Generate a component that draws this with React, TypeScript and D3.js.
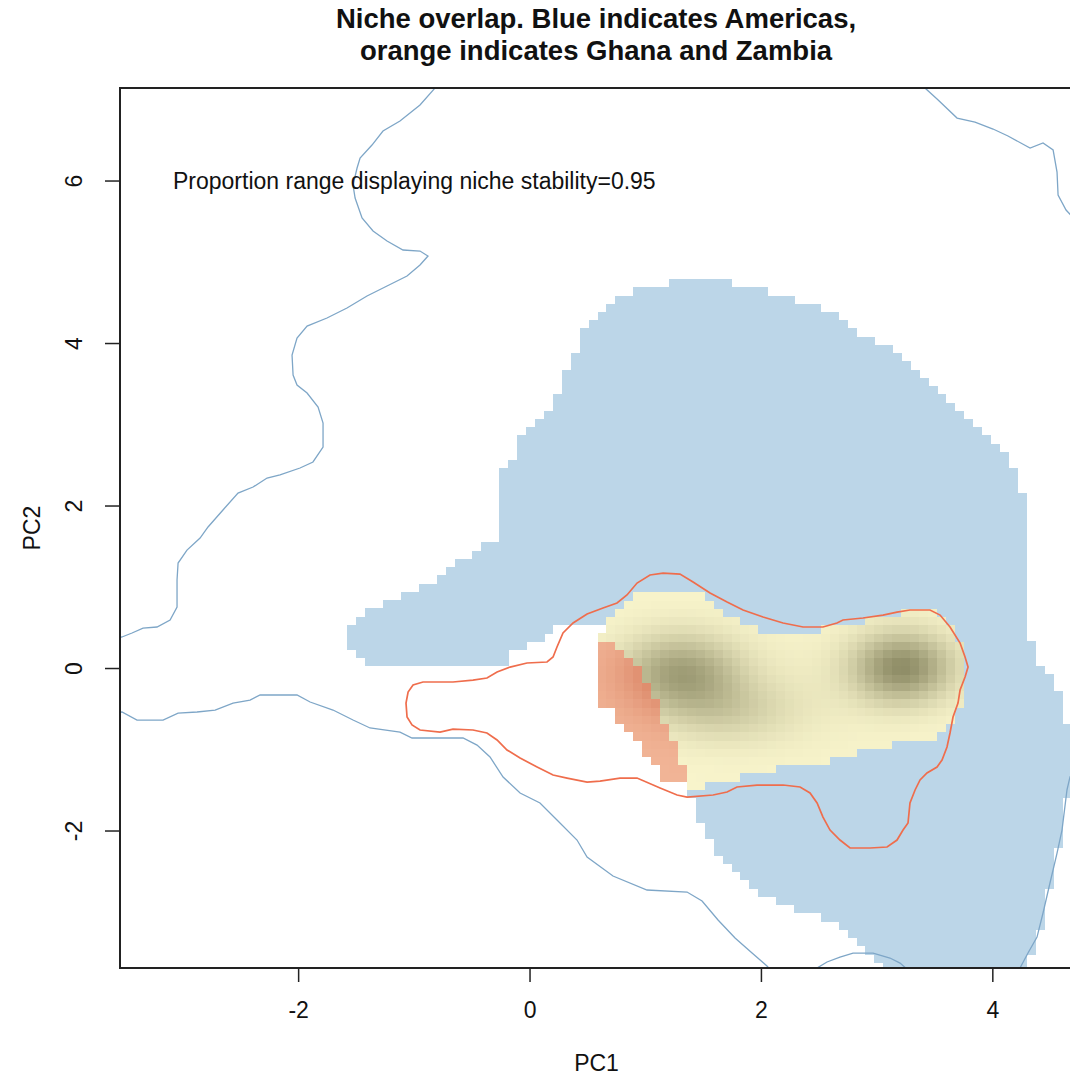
import React from 'react';
import * as d3 from 'd3';

type Pt = [number, number];

// Axis set-up (PC1 / PC2 units)
const xDomain: Pt = [-3.544, 4.693];
const yDomain: Pt = [-3.686, 7.145];
const xTicks = [-2, 0, 2, 4];
const yTicks = [-2, 0, 2, 4, 6];

// Raster grid of the niche model: origin cell centre and cell size (PC units)
const gridOrigin: Pt = [-3.238, -3.26];
const gridStep: Pt = [0.0772, 0.1013];
const gridRange: Pt = [-6, 112];

// Americas niche (blue, occupied area) outline
const americasNiche: Pt[] = [
  [1.175, 4.794], [1.737, 4.794], [1.737, 4.745], [2.074, 4.646], [2.316, 4.542], [2.489, 4.437],
  [2.662, 4.338], [2.74, 4.24], [2.826, 4.129], [2.982, 4.031], [3.137, 3.92], [3.224, 3.797], [3.31, 3.698],
  [3.397, 3.6], [3.483, 3.489], [3.57, 3.391], [3.656, 3.292], [3.742, 3.169], [3.82, 3.046],
  [3.898, 2.923], [3.976, 2.812], [4.062, 2.714], [4.166, 2.505], [4.235, 2.197], [4.322, 1.828],
  [4.322, 1.089], [4.252, 1.028], [4.252, 0.437], [4.322, 0.388], [4.408, 0.068], [4.494, -0.105],
  [4.581, -0.351], [4.641, -0.671], [4.754, -0.942], [4.754, -1.311], [4.641, -1.495], [4.598, -1.988],
  [4.555, -2.271], [4.494, -2.64], [4.434, -3.009], [4.382, -3.305], [4.322, -3.502], [4.296, -3.834],
  [3.086, -3.834], [2.999, -3.588], [2.878, -3.465], [2.826, -3.378], [2.74, -3.255], [2.653, -3.132],
  [2.481, -3.058], [2.334, -2.972], [2.187, -2.886], [2.1, -2.849], [2.014, -2.763], [1.927, -2.726],
  [1.841, -2.603], [1.755, -2.48], [1.668, -2.382], [1.582, -2.197], [1.495, -1.963], [1.409, -1.68],
  [1.34, -1.458], [1.037, -0.388], [0.691, 0.289], [0.666, 0.535], [0.259, 0.535], [0.156, 0.437],
  [0.0, 0.289], [-0.164, 0.203], [-0.164, 0.068], [-1.409, 0.068], [-1.495, 0.203], [-1.573, 0.314],
  [-1.573, 0.511], [-1.495, 0.622], [-1.409, 0.72], [-1.15, 0.843], [-0.977, 0.966], [-0.838, 1.065],
  [-0.752, 1.175], [-0.666, 1.298], [-0.493, 1.397], [-0.406, 1.495], [-0.242, 1.618], [-0.242, 2.382],
  [-0.156, 2.591], [-0.086, 2.812], [0.0, 2.935], [0.086, 3.034], [0.173, 3.243], [0.259, 3.452],
  [0.346, 3.797], [0.424, 4.031], [0.501, 4.24], [0.579, 4.338], [0.666, 4.437], [0.752, 4.542],
  [0.916, 4.646], [1.175, 4.745],
];

// Stability area (shared niche, yellow, shaded by density)
const stabilityArea: Pt[] = [
  [0.605, 0.351], [0.666, 0.535], [0.709, 0.695], [0.778, 0.782], [0.882, 0.88], [1.011, 0.978],
  [1.409, 0.978], [1.513, 0.892], [1.599, 0.806], [1.668, 0.72], [1.772, 0.622], [1.901, 0.535],
  [2.005, 0.449], [2.247, 0.425], [2.42, 0.449], [2.55, 0.498], [2.723, 0.56], [2.939, 0.597],
  [3.172, 0.671], [3.328, 0.732], [3.474, 0.72], [3.561, 0.634], [3.647, 0.474], [3.717, 0.289],
  [3.769, 0.08], [3.742, -0.265], [3.691, -0.535], [3.63, -0.72], [3.526, -0.831], [3.328, -0.892],
  [3.137, -0.929], [2.939, -1.003], [2.723, -1.077], [2.567, -1.151], [2.334, -1.212], [2.005, -1.249],
  [1.858, -1.323], [1.729, -1.385], [1.513, -1.446], [1.348, -1.446], [1.167, -1.348], [0.951, -0.942],
  [0.709, -0.535], [0.588, -0.388],
];

// Unfilling area (orange band)
const unfillingArea: Pt[] = [
  [0.588, 0.289], [0.709, 0.314], [0.821, 0.166], [0.925, 0.043], [1.011, -0.203], [1.098, -0.449],
  [1.184, -0.695], [1.271, -1.003], [1.348, -1.36], [1.167, -1.36], [1.08, -1.212], [0.994, -1.065],
  [0.908, -0.88], [0.821, -0.732], [0.709, -0.535], [0.588, -0.388],
];

// Density peaks of occurrences in Ghana and Zambia (read from the shading)
const densityPeaks = [
  { x: 1.3, y: -0.05, sx: 0.36, sy: 0.33, w: 0.78 },
  { x: 1.72, y: -0.52, sx: 0.4, sy: 0.28, w: 0.3 },
  { x: 3.22, y: 0.02, sx: 0.3, sy: 0.3, w: 0.95 },
  { x: 2.4, y: -0.3, sx: 0.5, sy: 0.45, w: 0.06 },
];

// Americas environment contour (blue line pieces)
const americasEnvLines: Pt[][] = [
  [
    [-0.804, 7.218], [-0.821, 7.145], [-0.951, 6.936], [-1.124, 6.739], [-1.271, 6.615], [-1.366, 6.443],
    [-1.469, 6.283], [-1.495, 6.16], [-1.53, 5.951], [-1.512, 5.791], [-1.452, 5.545], [-1.357, 5.385],
    [-1.236, 5.262], [-1.098, 5.151], [-0.951, 5.138], [-0.882, 5.077], [-0.951, 4.966], [-1.063, 4.831],
    [-1.236, 4.708], [-1.409, 4.585], [-1.582, 4.437], [-1.755, 4.314], [-1.927, 4.215], [-2.014, 4.068],
    [-2.057, 3.858], [-2.048, 3.612], [-2.014, 3.489], [-1.927, 3.391], [-1.832, 3.218], [-1.789, 3.022],
    [-1.789, 2.726], [-1.876, 2.542], [-1.988, 2.468], [-2.161, 2.382], [-2.273, 2.345], [-2.394, 2.234],
    [-2.524, 2.16], [-2.654, 1.951], [-2.783, 1.742], [-2.852, 1.606], [-2.965, 1.458], [-3.042, 1.298],
    [-3.051, 1.089], [-3.051, 0.757], [-3.111, 0.597], [-3.224, 0.511], [-3.345, 0.498], [-3.44, 0.437],
    [-3.527, 0.388], [-3.596, 0.363],
  ],
  [
    [-3.596, -0.548], [-3.527, -0.535], [-3.397, -0.634], [-3.172, -0.634], [-3.042, -0.548], [-2.878, -0.535],
    [-2.722, -0.511], [-2.567, -0.425], [-2.42, -0.388], [-2.333, -0.326], [-2.014, -0.326], [-1.901, -0.412],
    [-1.703, -0.511], [-1.53, -0.634], [-1.383, -0.732], [-1.124, -0.782], [-1.02, -0.855], [-0.579, -0.855],
    [-0.458, -0.942], [-0.346, -1.089], [-0.233, -1.335], [-0.086, -1.532], [0.086, -1.655], [0.233, -1.865],
    [0.406, -2.111], [0.493, -2.32], [0.717, -2.554], [1.011, -2.726], [1.357, -2.751], [1.487, -2.862],
    [1.625, -3.095], [1.772, -3.317], [1.919, -3.502], [2.048, -3.662], [2.118, -3.772],
  ],
  [
    [2.437, -3.785], [2.481, -3.686], [2.567, -3.612], [2.679, -3.551], [2.792, -3.502], [2.965, -3.502],
    [3.111, -3.563], [3.198, -3.625], [3.267, -3.711],
  ],
  [
    [4.754, -1.126], [4.667, -1.335], [4.641, -1.495], [4.598, -1.988], [4.555, -2.271], [4.494, -2.64],
    [4.434, -3.009], [4.382, -3.305], [4.304, -3.502], [4.235, -3.686], [4.218, -3.785],
  ],
  [
    [3.388, 7.218], [3.414, 7.145], [3.518, 7.009], [3.691, 6.775], [3.846, 6.726], [4.002, 6.64],
    [4.131, 6.554], [4.322, 6.406], [4.434, 6.468], [4.521, 6.382], [4.555, 6.111], [4.564, 5.828],
    [4.633, 5.643], [4.754, 5.458],
  ],
];

// Ghana and Zambia environment contour (orange line)
const ghanaZambiaEnvLine: Pt[] = [
  [-1.072, -0.425], [-1.054, -0.289], [-1.011, -0.203], [-0.925, -0.166], [-0.666, -0.166], [-0.493, -0.142],
  [-0.372, -0.117], [-0.285, -0.043], [-0.173, 0.018], [-0.026, 0.068], [0.147, 0.08], [0.199, 0.142],
  [0.233, 0.265], [0.285, 0.437], [0.372, 0.56], [0.493, 0.671], [0.631, 0.745], [0.752, 0.806],
  [0.838, 0.905], [0.925, 1.052], [1.037, 1.151], [1.15, 1.175], [1.296, 1.163], [1.409, 1.065],
  [1.556, 0.929], [1.703, 0.818], [1.841, 0.72], [2.014, 0.634], [2.187, 0.56], [2.36, 0.511],
  [2.532, 0.511], [2.653, 0.56], [2.705, 0.597], [2.878, 0.622], [3.051, 0.658], [3.172, 0.695],
  [3.284, 0.72], [3.457, 0.72], [3.544, 0.658], [3.63, 0.511], [3.717, 0.314], [3.76, 0.142],
  [3.786, 0.018], [3.76, -0.105], [3.717, -0.265], [3.699, -0.425], [3.656, -0.597], [3.63, -0.794],
  [3.604, -0.966], [3.561, -1.126], [3.518, -1.212], [3.431, -1.286], [3.371, -1.372], [3.328, -1.495],
  [3.284, -1.655], [3.267, -1.902], [3.224, -1.988], [3.172, -2.111], [3.086, -2.197], [2.939, -2.209],
  [2.766, -2.209], [2.679, -2.111], [2.593, -1.988], [2.532, -1.828], [2.481, -1.655], [2.42, -1.532],
  [2.334, -1.458], [2.187, -1.434], [1.962, -1.434], [1.789, -1.458], [1.703, -1.52], [1.582, -1.557],
  [1.357, -1.582], [1.271, -1.557], [1.124, -1.471], [0.925, -1.348], [0.778, -1.348], [0.605, -1.385],
  [0.493, -1.397], [0.32, -1.348], [0.199, -1.311], [0.061, -1.212], [-0.086, -1.102], [-0.199, -1.003],
  [-0.285, -0.88], [-0.372, -0.794], [-0.493, -0.757], [-0.666, -0.745], [-0.778, -0.782], [-0.951, -0.757],
  [-1.02, -0.695], [-1.063, -0.597],
];

const titleLines = ['Niche overlap. Blue indicates Americas,', 'orange indicates Ghana and Zambia'];
const annotation = 'Proportion range displaying niche stability=0.95';
const annotationAt: Pt = [-1, 6];

const FONT = "'Liberation Sans', Arial, Helvetica, sans-serif";
const BLUE_FILL = '#bcd6e8';
const BLUE_LINE = '#7ea6c7';
const ORANGE_LINE = '#ef6d4c';
const yellowLight = [248, 244, 203];
const yellowDark = [139, 137, 99];
const orangeLight = [241, 180, 150];
const orangeDark = [214, 124, 92];

function density(px: number, py: number) {
  let s = 0;
  for (const k of densityPeaks) {
    const a = (px - k.x) / k.sx;
    const b = (py - k.y) / k.sy;
    s += k.w * Math.exp(-0.5 * (a * a + b * b));
  }
  return Math.min(1, s);
}

function mix(c1: number[], c2: number[], t: number) {
  const r = Math.round(c1[0] + (c2[0] - c1[0]) * t);
  const g = Math.round(c1[1] + (c2[1] - c1[1]) * t);
  const b = Math.round(c1[2] + (c2[2] - c1[2]) * t);
  return `rgb(${r},${g},${b})`;
}

export default function App() {
  const W = 1070, H = 1078;
  const left = 120, right = 1073, top = 88, bottom = 968;
  const x = d3.scaleLinear().domain(xDomain).range([left, right]);
  const y = d3.scaleLinear().domain(yDomain).range([bottom, top]);

  const [dx, dy] = gridStep;
  const cells: JSX.Element[] = [];
  for (let i = gridRange[0]; i < gridRange[1]; i++) {
    for (let j = gridRange[0]; j < gridRange[1]; j++) {
      const cx = gridOrigin[0] + i * dx;
      const cy = gridOrigin[1] + j * dy;
      const pt: Pt = [cx, cy];
      let fill: string | null = null;
      if (d3.polygonContains(unfillingArea, pt)) {
        fill = mix(orangeLight, orangeDark, Math.min(1, density(cx, cy) * 1.3));
      } else if (d3.polygonContains(stabilityArea, pt)) {
        fill = mix(yellowLight, yellowDark, density(cx, cy));
      } else if (d3.polygonContains(americasNiche, pt)) {
        fill = BLUE_FILL;
      }
      if (fill) {
        const x0 = x(cx - dx / 2), x1 = x(cx + dx / 2);
        const y0 = y(cy + dy / 2), y1 = y(cy - dy / 2);
        cells.push(
          <rect key={`${i}-${j}`} x={x0} y={y0} width={x1 - x0 + 0.6} height={y1 - y0 + 0.6} fill={fill} />
        );
      }
    }
  }

  const line = d3.line<Pt>().x((p) => x(p[0])).y((p) => y(p[1]));
  const closed = d3.line<Pt>().x((p) => x(p[0])).y((p) => y(p[1])).curve(d3.curveLinearClosed);

  return (
    <svg width={W} height={H} style={{ position: 'absolute', left: 0, top: 0, display: 'block', background: '#fff' }}
      fontFamily={FONT}>
      <defs>
        <clipPath id="plotClip">
          <rect x={left} y={top} width={right - left} height={bottom - top} />
        </clipPath>
      </defs>
      <rect x={0} y={0} width={W} height={H} fill="#fff" />
      <g clipPath="url(#plotClip)">
        <g shapeRendering="crispEdges">{cells}</g>
        {americasEnvLines.map((seg, k) => (
          <path key={k} d={line(seg) || ''} fill="none" stroke={BLUE_LINE} strokeWidth={1.3} />
        ))}
        <path d={closed(ghanaZambiaEnvLine) || ''} fill="none" stroke={ORANGE_LINE} strokeWidth={1.7} />
      </g>
      <text x={x(annotationAt[0])} y={y(annotationAt[1])} dy="0.36em" textAnchor="middle" fontSize={23} fill="#111">
        {annotation}
      </text>
      <rect x={left} y={top} width={right - left} height={bottom - top} fill="none" stroke="#222" strokeWidth={2} />
      {xTicks.map((t) => (
        <g key={t}>
          <line x1={x(t)} x2={x(t)} y1={bottom} y2={bottom + 14} stroke="#222" strokeWidth={1.5} />
          <text x={x(t)} y={1018} textAnchor="middle" fontSize={23} fill="#111">{t}</text>
        </g>
      ))}
      {yTicks.map((t) => (
        <g key={t}>
          <line x1={left - 15} x2={left} y1={y(t)} y2={y(t)} stroke="#222" strokeWidth={1.5} />
          <text transform={`translate(82, ${y(t)}) rotate(-90)`} textAnchor="middle" fontSize={23} fill="#111">{t}</text>
        </g>
      ))}
      <text x={(left + right) / 2} y={1071} textAnchor="middle" fontSize={23} fill="#111">PC1</text>
      <text transform={`translate(40, ${(top + bottom) / 2}) rotate(-90)`} textAnchor="middle" fontSize={23} fill="#111">PC2</text>
      {titleLines.map((s, k) => (
        <text key={k} x={596} y={28 + k * 32} textAnchor="middle" fontSize={27.5} fontWeight="bold" fill="#111">{s}</text>
      ))}
    </svg>
  );
}
